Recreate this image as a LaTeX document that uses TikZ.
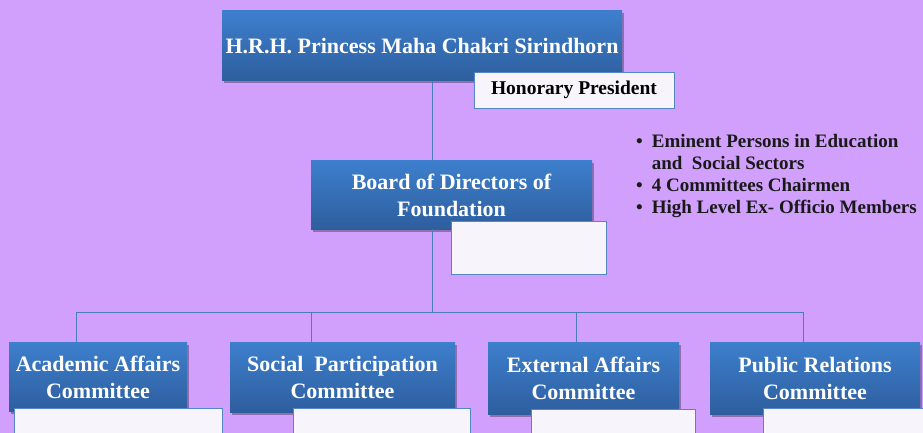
\documentclass[tikz,border=0pt]{standalone}
\usepackage{fontspec}
\setmainfont{Liberation Serif}
\usepackage{tikz}
\usetikzlibrary{shadows}
\definecolor{lilac}{RGB}{208,160,252}
\definecolor{boxtop}{RGB}{61,127,205}
\definecolor{boxbot}{RGB}{46,94,158}
\definecolor{linkblue}{RGB}{74,126,187}
\definecolor{notefill}{RGB}{248,244,252}
\definecolor{noteedge}{RGB}{84,134,196}
\tikzset{
  unitbox/.style={rectangle,inner sep=0pt,top color=boxtop,bottom color=boxbot,
    text=white,align=center,font=\fontsize{22}{27}\selectfont\bfseries,
    drop shadow={shadow xshift=1.5pt,shadow yshift=-2.5pt,opacity=0.3,fill=black}},
  notebox/.style={rectangle,draw=noteedge,line width=0.9pt,fill=notefill,inner sep=0pt},
  link/.style={draw=linkblue,line width=1pt}
}

\begin{document}
\begin{tikzpicture}[x=1pt,y=-1pt]
  % page
  \fill[lilac] (0,0) rectangle (923,433);
  \useasboundingbox (0,0) rectangle (923,433);
  \clip (0,0) rectangle (923,433);

  % president
  \node[unitbox,minimum width=400,minimum height=70] (hrh) at (422,46)
    {H.R.H. Princess Maha Chakri Sirindhorn};
  \node[notebox,minimum width=200,minimum height=36,
    font=\fontsize{19.5}{23}\selectfont\bfseries] (hon) at (574,90) {Honorary President};

  % board
  \node[unitbox,minimum width=281,minimum height=68.5] (board) at (451.5,195)
    {Board of Directors of\\Foundation};
  \node[notebox,minimum width=155,minimum height=53] (boardnote) at (528.5,247.5) {};
  \node[anchor=base west,inner sep=0pt,text=black!90,
    font=\fontsize{19}{22}\selectfont\bfseries] (members) at (636,147.3)
    {\begin{tabular}[t]{@{}l@{\hspace{9pt}}l@{}}
      \textbullet & Eminent Persons in Education\\
                  & and\ \ Social Sectors\\
      \textbullet & 4 Committees Chairmen\\
      \textbullet & High Level Ex- Officio Members
    \end{tabular}};

  % committees
  \node[unitbox,minimum width=178,minimum height=69.5] (academic) at (98,377)
    {Academic Affairs\\Committee};
  \node[unitbox,minimum width=225,minimum height=70] (social) at (342.5,377)
    {Social\ \ Participation\\Committee};
  \node[unitbox,minimum width=191,minimum height=72] (external) at (583.5,378)
    {External Affairs\\Committee};
  \node[unitbox,minimum width=210,minimum height=72] (public) at (815,378)
    {Public Relations\\Committee};
  \node[notebox,minimum width=207.6,minimum height=53] (academicnote) at (118.5,435.2) {};
  \node[notebox,minimum width=177,minimum height=53] (socialnote) at (381.8,434.5) {};
  \node[notebox,minimum width=163.3,minimum height=53] (externalnote) at (613.4,436.2) {};
  \node[notebox,minimum width=169.3,minimum height=53] (publicnote) at (848.4,435.2) {};

  % trunk and bus
  \coordinate (trunk) at (432,312);
  \coordinate (dropA) at (76.7,312);
  \coordinate (dropB) at (311.7,312);
  \coordinate (dropC) at (576.3,312);
  \coordinate (dropD) at (803.3,312);
  \draw[link] (hrh.south -| trunk) -- (board.north -| trunk);
  \draw[link] (board.south -| trunk) -- (trunk);
  \draw[link] (academic.north -| dropA) -- (dropA) -- (dropD) -- (public.north -| dropD);
  \draw[link] (dropB) -- (social.north -| dropB);
  \draw[link] (dropC) -- (external.north -| dropC);
\end{tikzpicture}
\end{document}
